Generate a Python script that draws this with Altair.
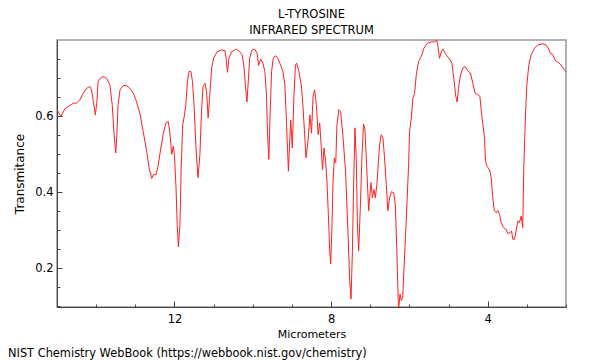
import altair as alt
import pandas as pd

title_lines = ["L-TYROSINE", "INFRARED SPECTRUM"]
x_title = "Micrometers"
y_title = "Transmitance"
footer = "NIST Chemistry WebBook (https://webbook.nist.gov/chemistry)"

x_ticks = [2, 3, 4, 5, 6, 7, 8, 9, 10, 11, 12, 13, 14, 15]
y_ticks = [0.1, 0.15, 0.2, 0.25, 0.3, 0.35, 0.4, 0.45, 0.5, 0.55, 0.6, 0.65, 0.7, 0.75]

micrometers = [
    15.00, 14.90, 14.80, 14.71, 14.58, 14.50, 14.41, 14.33, 14.24, 14.16,
    14.12, 14.07, 14.02, 13.98, 13.95, 13.90, 13.82, 13.73, 13.65, 13.59,
    13.54, 13.50, 13.47, 13.44, 13.39, 13.31, 13.22, 13.14, 13.05, 12.97,
    12.88, 12.80, 12.71, 12.65, 12.58, 12.54, 12.47, 12.42, 12.36, 12.29,
    12.22, 12.16, 12.12, 12.07, 12.03, 12.00, 11.96, 11.93, 11.90, 11.86,
    11.83, 11.79, 11.75, 11.71, 11.67, 11.63, 11.58, 11.54, 11.50, 11.45,
    11.40, 11.35, 11.31, 11.27, 11.22, 11.18, 11.14, 11.10, 11.05, 11.00,
    10.91, 10.80, 10.71, 10.68, 10.645, 10.61, 10.54, 10.42, 10.33, 10.27,
    10.22, 10.19, 10.15, 10.12, 10.08, 10.02, 9.95, 9.89, 9.85, 9.80,
    9.74, 9.69, 9.65, 9.625, 9.59, 9.56, 9.52, 9.48, 9.42, 9.36,
    9.29, 9.23, 9.18, 9.14, 9.09, 9.06, 9.03, 8.99, 8.95, 8.91,
    8.88, 8.83, 8.76, 8.72, 8.67, 8.64, 8.59, 8.54, 8.50, 8.46,
    8.42, 8.375, 8.33, 8.29, 8.25, 8.22, 8.18, 8.14, 8.105, 8.07,
    8.035, 8.01, 7.98, 7.95, 7.915, 7.88, 7.85, 7.80, 7.755, 7.70,
    7.63, 7.57, 7.525, 7.49, 7.455, 7.42, 7.39, 7.355, 7.33, 7.295,
    7.25, 7.21, 7.17, 7.135, 7.085, 7.04, 7.015, 6.98, 6.945, 6.905,
    6.87, 6.83, 6.79, 6.76, 6.72, 6.675, 6.635, 6.59, 6.55, 6.505,
    6.46, 6.40, 6.36, 6.32, 6.285, 6.275, 6.24, 6.205, 6.17, 6.14,
    6.10, 6.055, 6.02, 5.995, 5.95, 5.91, 5.865, 5.825, 5.765, 5.695,
    5.63, 5.545, 5.44, 5.355, 5.305, 5.275, 5.23, 5.185, 5.145, 5.06,
    4.975, 4.915, 4.865, 4.815, 4.78, 4.745, 4.695, 4.635, 4.575, 4.51,
    4.44, 4.38, 4.32, 4.255, 4.20, 4.15, 4.08, 4.055, 4.02, 3.955,
    3.91, 3.87, 3.83, 3.78, 3.74, 3.70, 3.655, 3.595, 3.53, 3.485,
    3.425, 3.39, 3.36, 3.315, 3.275, 3.23, 3.19, 3.145, 3.105, 3.08,
    3.035, 3.00, 2.95, 2.89, 2.805, 2.72, 2.595, 2.51, 2.45, 2.405,
    2.34, 2.27, 2.195, 2.125, 2.04, 2.00,
]

transmittance = [
    0.617, 0.599, 0.619, 0.625, 0.634, 0.634, 0.643, 0.660, 0.673, 0.678,
    0.669, 0.638, 0.603, 0.638, 0.691, 0.699, 0.704, 0.699, 0.682, 0.630,
    0.551, 0.503, 0.551, 0.630, 0.669, 0.680, 0.680, 0.673, 0.660, 0.638,
    0.606, 0.560, 0.508, 0.464, 0.436, 0.446, 0.446, 0.468, 0.508, 0.551,
    0.582, 0.586, 0.560, 0.499, 0.521, 0.499, 0.412, 0.315, 0.256, 0.315,
    0.455, 0.577, 0.599, 0.630, 0.691, 0.717, 0.717, 0.691, 0.630, 0.516,
    0.438, 0.499, 0.612, 0.678, 0.686, 0.665, 0.595, 0.652, 0.726, 0.752,
    0.769, 0.774, 0.772, 0.750, 0.715, 0.752, 0.769, 0.776, 0.769, 0.761,
    0.726, 0.682, 0.637, 0.682, 0.752, 0.774, 0.776, 0.765, 0.733, 0.750,
    0.739, 0.717, 0.656, 0.560, 0.486, 0.595, 0.717, 0.750, 0.759, 0.752,
    0.734, 0.717, 0.682, 0.586, 0.455, 0.525, 0.590, 0.516, 0.647, 0.734,
    0.739, 0.721, 0.682, 0.630, 0.542, 0.490, 0.534, 0.603, 0.555, 0.652,
    0.669, 0.630, 0.551, 0.582, 0.516, 0.459, 0.516, 0.481, 0.429, 0.342,
    0.246, 0.211, 0.298, 0.429, 0.490, 0.477, 0.577, 0.617, 0.612, 0.551,
    0.455, 0.298, 0.167, 0.119, 0.246, 0.438, 0.569, 0.481, 0.324, 0.246,
    0.368, 0.499, 0.579, 0.564, 0.455, 0.351, 0.385, 0.425, 0.385, 0.407,
    0.385, 0.420, 0.481, 0.525, 0.551, 0.542, 0.490, 0.420, 0.351, 0.385,
    0.401, 0.398, 0.368, 0.246, 0.115, 0.090, 0.132, 0.115, 0.124, 0.193,
    0.281, 0.385, 0.473, 0.560, 0.595, 0.647, 0.660, 0.708, 0.744, 0.757,
    0.778, 0.791, 0.795, 0.795, 0.800, 0.787, 0.752, 0.769, 0.776, 0.761,
    0.750, 0.739, 0.699, 0.652, 0.637, 0.673, 0.708, 0.726, 0.730, 0.719,
    0.713, 0.686, 0.660, 0.656, 0.652, 0.600, 0.542, 0.481, 0.468, 0.459,
    0.438, 0.385, 0.351, 0.346, 0.352, 0.342, 0.320, 0.307, 0.302, 0.291,
    0.294, 0.298, 0.276, 0.276, 0.298, 0.324, 0.320, 0.337, 0.307, 0.455,
    0.603, 0.682, 0.734, 0.761, 0.778, 0.787, 0.790, 0.787, 0.778, 0.765,
    0.762, 0.745, 0.741, 0.734, 0.721, 0.717,
]

df = pd.DataFrame({"um": micrometers, "t": transmittance})

FONT = "DejaVu Sans"

x_axis = alt.Axis(
    title=x_title,
    values=x_ticks,
    format="d",
    labelExpr="datum.value % 4 === 0 ? datum.label : ''",
    tickSize={"expr": "datum.value % 4 === 0 ? -6 : -3"},
    labelPadding=12,
    titlePadding=4,
    grid=False,
    domainColor="#444",
    tickColor="#444",
    labelColor="#000",
    titleColor="#000",
    labelFont=FONT,
    titleFont=FONT,
    labelFontSize=11.5,
    titleFontSize=11,
    titleFontWeight="normal",
)

y_axis = alt.Axis(
    title=y_title,
    values=y_ticks,
    format=".1f",
    labelExpr="abs(datum.value * 5 - round(datum.value * 5)) < 0.0001 ? datum.label : ''",
    tickSize={"expr": "abs(datum.value * 5 - round(datum.value * 5)) < 0.0001 ? -5 : -3"},
    labelPadding=9,
    titlePadding=8,
    grid=False,
    domainColor="#444",
    tickColor="#444",
    labelColor="#000",
    titleColor="#000",
    labelFont=FONT,
    titleFont=FONT,
    labelFontSize=11.5,
    titleFontSize=12,
    titleFontWeight="normal",
)

line = alt.Chart(df).mark_line(color="#ff2020", strokeWidth=1, clip=True).encode(
    x=alt.X("um:Q", scale=alt.Scale(domain=[2, 15], reverse=True, nice=False, zero=False), axis=x_axis),
    y=alt.Y("t:Q", scale=alt.Scale(domain=[0.098, 0.8], nice=False, zero=False), axis=y_axis),
    order=alt.Order("um:Q", sort="descending"),
)

foot = alt.Chart(pd.DataFrame({"txt": [footer]})).mark_text(
    align="left", baseline="middle", font=FONT, fontSize=11.4, color="#000"
).encode(x=alt.value(-49), y=alt.value(314), text="txt:N")

chart = alt.layer(line, foot).properties(
    width=509,
    height=267,
    title=alt.TitleParams(
        text=title_lines, font=FONT, fontSize=11.5, fontWeight="normal",
        anchor="middle", offset=4, lineHeight=16, color="#000",
    ),
    autosize=alt.AutoSizeParams(type="none"),
    padding={"left": 49, "top": 32, "right": 26, "bottom": 60},
).configure_view(stroke="#999", strokeWidth=1.5)

chart.save("out.html", embed_options={"renderer": "svg", "actions": False})
